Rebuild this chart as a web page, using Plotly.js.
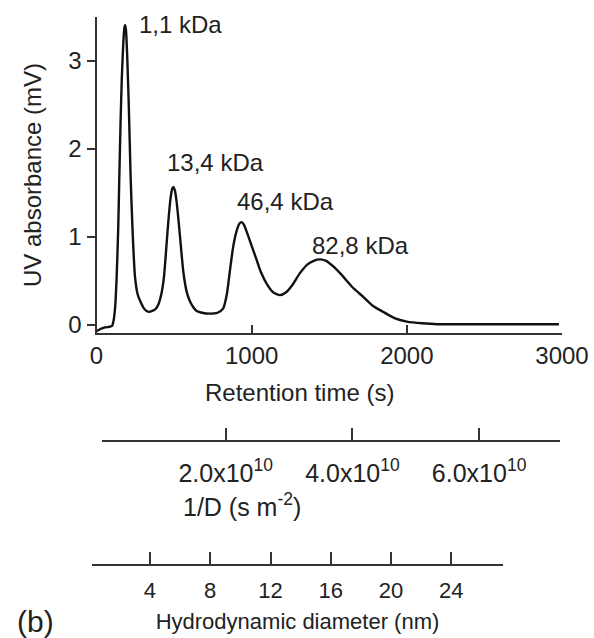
<!DOCTYPE html>
<html>
<head>
<meta charset="utf-8">
<script src="https://cdn.plot.ly/plotly-3.0.1.min.js"></script>
<style>html,body{margin:0;padding:0;background:#fff;}#chart{width:594px;height:638px;}</style>
</head>
<body>
<div id="chart"></div>
<script>
// Retention time (s) and UV absorbance (mV)
const retentionTime = [0, 20, 50, 80, 100, 110, 120, 130, 140, 147, 155, 163, 170, 178, 184, 190, 198, 208, 220, 233, 248, 265, 285, 310, 335, 360, 380, 400, 420, 435, 452, 465, 478, 488, 495, 505, 515, 528, 542, 560, 581, 602, 625, 646, 680, 730, 780, 817, 840, 860, 880, 900, 920, 935, 950, 970, 1000, 1032, 1060, 1100, 1140, 1182, 1220, 1260, 1311, 1360, 1400, 1440, 1480, 1530, 1590, 1650, 1719, 1780, 1848, 1920, 2000, 2100, 2200, 2400, 2600, 2800, 2980];
const uvAbsorbance = [-0.07, -0.05, -0.03, -0.02, -0.01, 0.05, 0.2, 0.55, 1.1, 1.68, 2.3, 2.8, 3.1, 3.35, 3.41, 3.35, 3.05, 2.5, 1.68, 1.05, 0.55, 0.35, 0.26, 0.18, 0.15, 0.16, 0.18, 0.24, 0.37, 0.55, 0.93, 1.22, 1.45, 1.55, 1.57, 1.53, 1.42, 1.2, 0.93, 0.6, 0.38, 0.27, 0.2, 0.16, 0.14, 0.13, 0.14, 0.19, 0.35, 0.62, 0.88, 1.05, 1.15, 1.17, 1.14, 1.05, 0.9, 0.74, 0.6, 0.46, 0.37, 0.34, 0.37, 0.45, 0.59, 0.69, 0.73, 0.746, 0.73, 0.66, 0.55, 0.43, 0.32, 0.22, 0.15, 0.08, 0.04, 0.02, 0.01, 0.01, 0.01, 0.01, 0.01];

// Peaks and their molecular-weight labels
const peakTime = [184, 495, 935, 1440];
const peakAbs = [3.41, 1.57, 1.17, 0.746];
const peakLabels = ['1,1 kDa', '13,4 kDa', '46,4 kDa', '82,8 kDa'];

// Axis ticks
const timeTicks = [0, 1000, 2000, 3000];
const absTicks = [0, 1, 2, 3];
const invDTicks = [2.0e10, 4.0e10, 6.0e10];
const invDTickLabels = ['2.0x10<sup>10</sup>', '4.0x10<sup>10</sup>', '6.0x10<sup>10</sup>'];
const diameterTicks = [4, 8, 12, 16, 20, 24];

const FONT = 'Liberation Sans, Arial, Helvetica, sans-serif';
const INK = '#222';
const AXC = '#333';

// pixel -> paper helpers (plot area: x 60..574, y 10..638)
const ML = 60, MR = 20, MT = 10, MB = 0, W = 594, H = 638;
const px = v => (v - ML) / (W - ML - MR);
const py = v => (H - MB - v) / (H - MT - MB);

const traces = [
  {
    x: retentionTime, y: uvAbsorbance, type: 'scatter', mode: 'lines',
    line: {color: '#111', width: 2.4, shape: 'spline', smoothing: 0.6},
    xaxis: 'x', yaxis: 'y', hoverinfo: 'skip'
  },
  {x: [], y: [], type: 'scatter', mode: 'lines', xaxis: 'x2', yaxis: 'y', hoverinfo: 'skip'},
  {x: [], y: [], type: 'scatter', mode: 'lines', xaxis: 'x3', yaxis: 'y', hoverinfo: 'skip'}
];

const labelShifts = [[12, 0], [-8, 24], [-7, 21], [-10, 14]];
const annotations = peakLabels.map((t, i) => ({
  text: t, x: peakTime[i], y: peakAbs[i], xref: 'x', yref: 'y',
  xanchor: 'left', yanchor: 'middle', showarrow: false,
  xshift: labelShifts[i][0], yshift: labelShifts[i][1],
  font: {family: FONT, size: 24, color: INK}
}));
annotations.push({
  text: 'Retention time (s)', xref: 'paper', yref: 'paper',
  x: px(299), y: py(392), xanchor: 'center', yanchor: 'middle',
  showarrow: false, font: {family: FONT, size: 24, color: INK}
});
annotations.push({
  text: '1/D (s m<sup>-2</sup>)', xref: 'paper', yref: 'paper',
  x: px(181), y: py(505), xanchor: 'left', yanchor: 'middle',
  showarrow: false, font: {family: FONT, size: 25, color: INK}
});
annotations.push({
  text: '(b)', xref: 'paper', yref: 'paper',
  x: px(15), y: py(621), xanchor: 'left', yanchor: 'middle',
  showarrow: false, font: {family: FONT, size: 30, color: INK}
});

const layout = {
  width: W, height: H,
  margin: {l: ML, r: MR, t: MT, b: MB},
  paper_bgcolor: '#fff', plot_bgcolor: 'rgba(0,0,0,0)',
  showlegend: false,
  font: {family: FONT, size: 24, color: INK},
  xaxis: {
    domain: [px(96.5), px(562)],
    anchor: 'y', range: [0, 3000], tickvals: timeTicks,
    ticks: 'inside', ticklen: 8, tickwidth: 2, tickcolor: AXC,
    showline: true, linewidth: 2, linecolor: AXC,
    showgrid: false, zeroline: false,
    tickfont: {family: FONT, size: 24, color: INK}
  },
  yaxis: {
    domain: [py(333), py(17)],
    anchor: 'x', range: [-0.09, 3.5], tickvals: absTicks,
    ticks: 'outside', ticklen: 8, tickwidth: 2, tickcolor: AXC,
    showline: true, linewidth: 2, linecolor: AXC,
    showgrid: false, zeroline: false,
    tickfont: {family: FONT, size: 24, color: INK},
    title: {text: 'UV absorbance (mV)', font: {family: FONT, size: 24, color: INK}, standoff: 20}
  },
  xaxis2: {
    domain: [px(101.7), px(560)],
    anchor: 'free', position: py(440.7),
    range: [0.0426e10, 7.277e10], tickvals: invDTicks, ticktext: invDTickLabels,
    ticks: 'inside', ticklen: 12, tickwidth: 2, tickcolor: AXC,
    showline: true, linewidth: 2, linecolor: AXC,
    showgrid: false, zeroline: false, ticklabelstandoff: 10,
    tickfont: {family: FONT, size: 25, color: INK}
  },
  xaxis3: {
    domain: [px(92), px(503)],
    anchor: 'free', position: py(565),
    range: [0.153, 27.43], tickvals: diameterTicks,
    ticks: 'inside', ticklen: 12, tickwidth: 2, tickcolor: AXC,
    showline: true, linewidth: 2, linecolor: AXC,
    showgrid: false, zeroline: false, ticklabelstandoff: 6,
    tickfont: {family: FONT, size: 22, color: INK},
    title: {text: 'Hydrodynamic diameter (nm)', font: {family: FONT, size: 22, color: INK}, standoff: 10}
  },
  annotations: annotations
};

Plotly.newPlot('chart', traces, layout, {staticPlot: true, displayModeBar: false});
</script>
</body>
</html>
